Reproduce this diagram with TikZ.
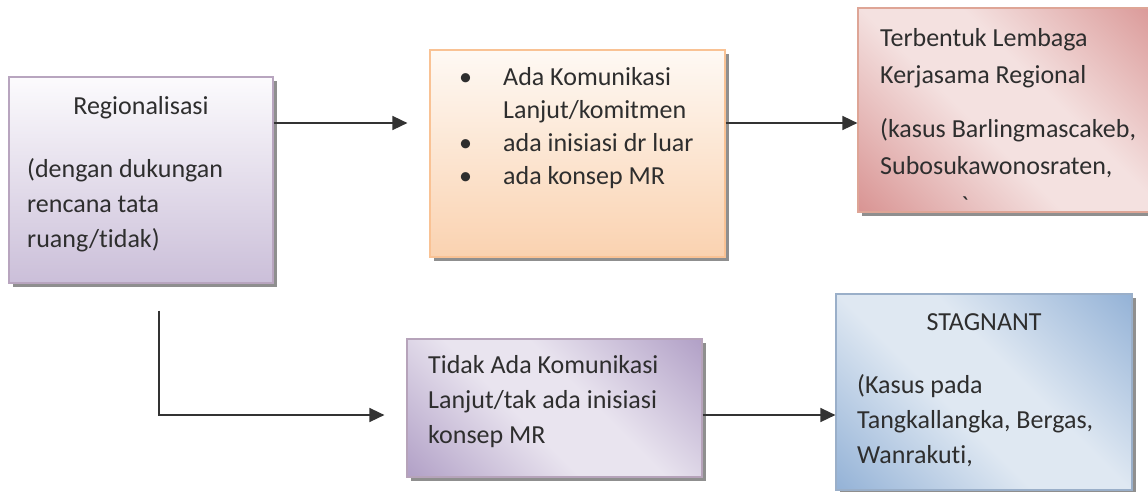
\documentclass[tikz,border=0pt]{standalone}
\usepackage{fontspec}
\setmainfont{Carlito}[Ligatures={TeX,NoCommon}]
\usepackage{xcolor}
\usetikzlibrary{arrows.meta,positioning,calc,shadows}

\definecolor{txt}{HTML}{2E2E2E}
\definecolor{linec}{HTML}{333333}
\definecolor{shade}{HTML}{8F8F8F}
\definecolor{purpTop}{HTML}{FCFBFD}
\definecolor{purpBot}{HTML}{CBBFD9}
\definecolor{purpEdge}{HTML}{B8A5BF}
\definecolor{orTop}{HTML}{FEF9F4}
\definecolor{orBot}{HTML}{FAD2B0}
\definecolor{orEdge}{HTML}{F9C294}
\definecolor{redDk}{HTML}{D99594}
\definecolor{redLt}{HTML}{F4E1E0}
\definecolor{redEdge}{HTML}{DEA596}
\definecolor{vioDk}{HTML}{B2A1C7}
\definecolor{vioLt}{HTML}{E9E4EF}
\definecolor{vioEdge}{HTML}{B6A3BA}
\definecolor{blueDk}{HTML}{95B3D7}
\definecolor{blueLt}{HTML}{DFE8F2}
\definecolor{blueEdge}{HTML}{9AAFC9}

% diagonal bands: dark corners, light middle
\pgfdeclarehorizontalshading{redband}{100bp}{color(0bp)=(redDk); color(15bp)=(redDk);
  color(43bp)=(redLt); color(57bp)=(redLt); color(85bp)=(redDk); color(100bp)=(redDk)}
\pgfdeclarehorizontalshading{vioband}{100bp}{color(0bp)=(vioDk); color(15bp)=(vioDk);
  color(43bp)=(vioLt); color(57bp)=(vioLt); color(85bp)=(vioDk); color(100bp)=(vioDk)}
\pgfdeclarehorizontalshading{blueband}{100bp}{color(0bp)=(blueDk); color(15bp)=(blueDk);
  color(43bp)=(blueLt); color(57bp)=(blueLt); color(85bp)=(blueDk); color(100bp)=(blueDk)}

\newcommand{\bul}{\makebox[44pt][l]{\textbullet}}

\begin{document}
\begin{tikzpicture}[x=1pt,y=-1pt,>=Latex,
    box/.style={line width=1.2pt, inner sep=0pt,
      drop shadow={shadow xshift=3.5pt, shadow yshift=-3.5pt, fill=shade, opacity=1}},
    label/.style={text=txt, inner sep=0pt, align=left,
      font=\fontsize{26}{35}\selectfont},
    conn/.style={draw=linec, line width=1.6pt},
    tip/.style={-{Triangle[length=15pt,width=14pt]}}]
  \useasboundingbox (0,0) rectangle (1148,491);

  % boxes
  \node[box, draw=purpEdge, top color=purpTop, bottom color=purpBot,
    minimum width=264pt, minimum height=206pt] (reg) at (141,180) {};
  \node[box, draw=orEdge, top color=orTop, bottom color=orBot,
    minimum width=295pt, minimum height=207pt] (kom) at (577.5,153.5) {};
  \node[box, draw=redEdge, shading=redband, shading angle=45,
    minimum width=310pt, minimum height=204pt] (lem) at (1013,110) {};
  \node[box, draw=vioEdge, shading=vioband, shading angle=45,
    minimum width=295pt, minimum height=138pt] (tidak) at (554.5,408) {};
  \node[box, draw=blueEdge, shading=blueband, shading angle=45,
    minimum width=296pt, minimum height=196pt] (stag) at (984,392) {};

  % texts (multi-line nodes sit on their last baseline)
  \node[label, anchor=base] (regT) at (141,114) {Regionalisasi};
  \node[label, anchor=base west] (regS) at (27,247)
    {(dengan dukungan\\rencana tata\\ruang/tidak)};
  \node[label, anchor=base west, font=\fontsize{26}{33}\selectfont] (komT) at (459,184)
    {\bul Ada Komunikasi\\\hspace*{44pt}Lanjut/komitmen\\\bul ada inisiasi dr luar\\\bul ada konsep MR};
  \node[label, anchor=base west, font=\fontsize{26}{37}\selectfont] (lemT) at (880,174)
    {Terbentuk Lembaga\\Kerjasama Regional\\[17pt](kasus Barlingmascakeb,\\Subosukawonosraten,};
  \node[label, anchor=base] (lemX) at (965,214) {\textasciigrave};
  \node[label, anchor=base west] (tidakT) at (428,443)
    {Tidak Ada Komunikasi\\Lanjut/tak ada inisiasi\\konsep MR};
  \node[label, anchor=base] (stagT) at (984,330) {STAGNANT};
  \node[label, anchor=base west] (stagS) at (857,463)
    {(Kasus pada\\Tangkallangka, Bergas,\\Wanrakuti,};

  % connectors
  \coordinate (row1) at (0,123);
  \coordinate (bend) at (159,415);
  \draw[conn, tip, shorten >=22pt] (reg.east |- row1) -- (kom.west |- row1);
  \draw[conn, tip] (kom.east |- row1) -- (lem.west |- row1);
  \draw[conn, tip, shorten <=27pt, shorten >=22pt]
    (reg.south -| bend) -- (bend) -- (tidak.west |- bend);
  \draw[conn, tip] (tidak.east |- bend) -- (stag.west |- bend);
\end{tikzpicture}
\end{document}
